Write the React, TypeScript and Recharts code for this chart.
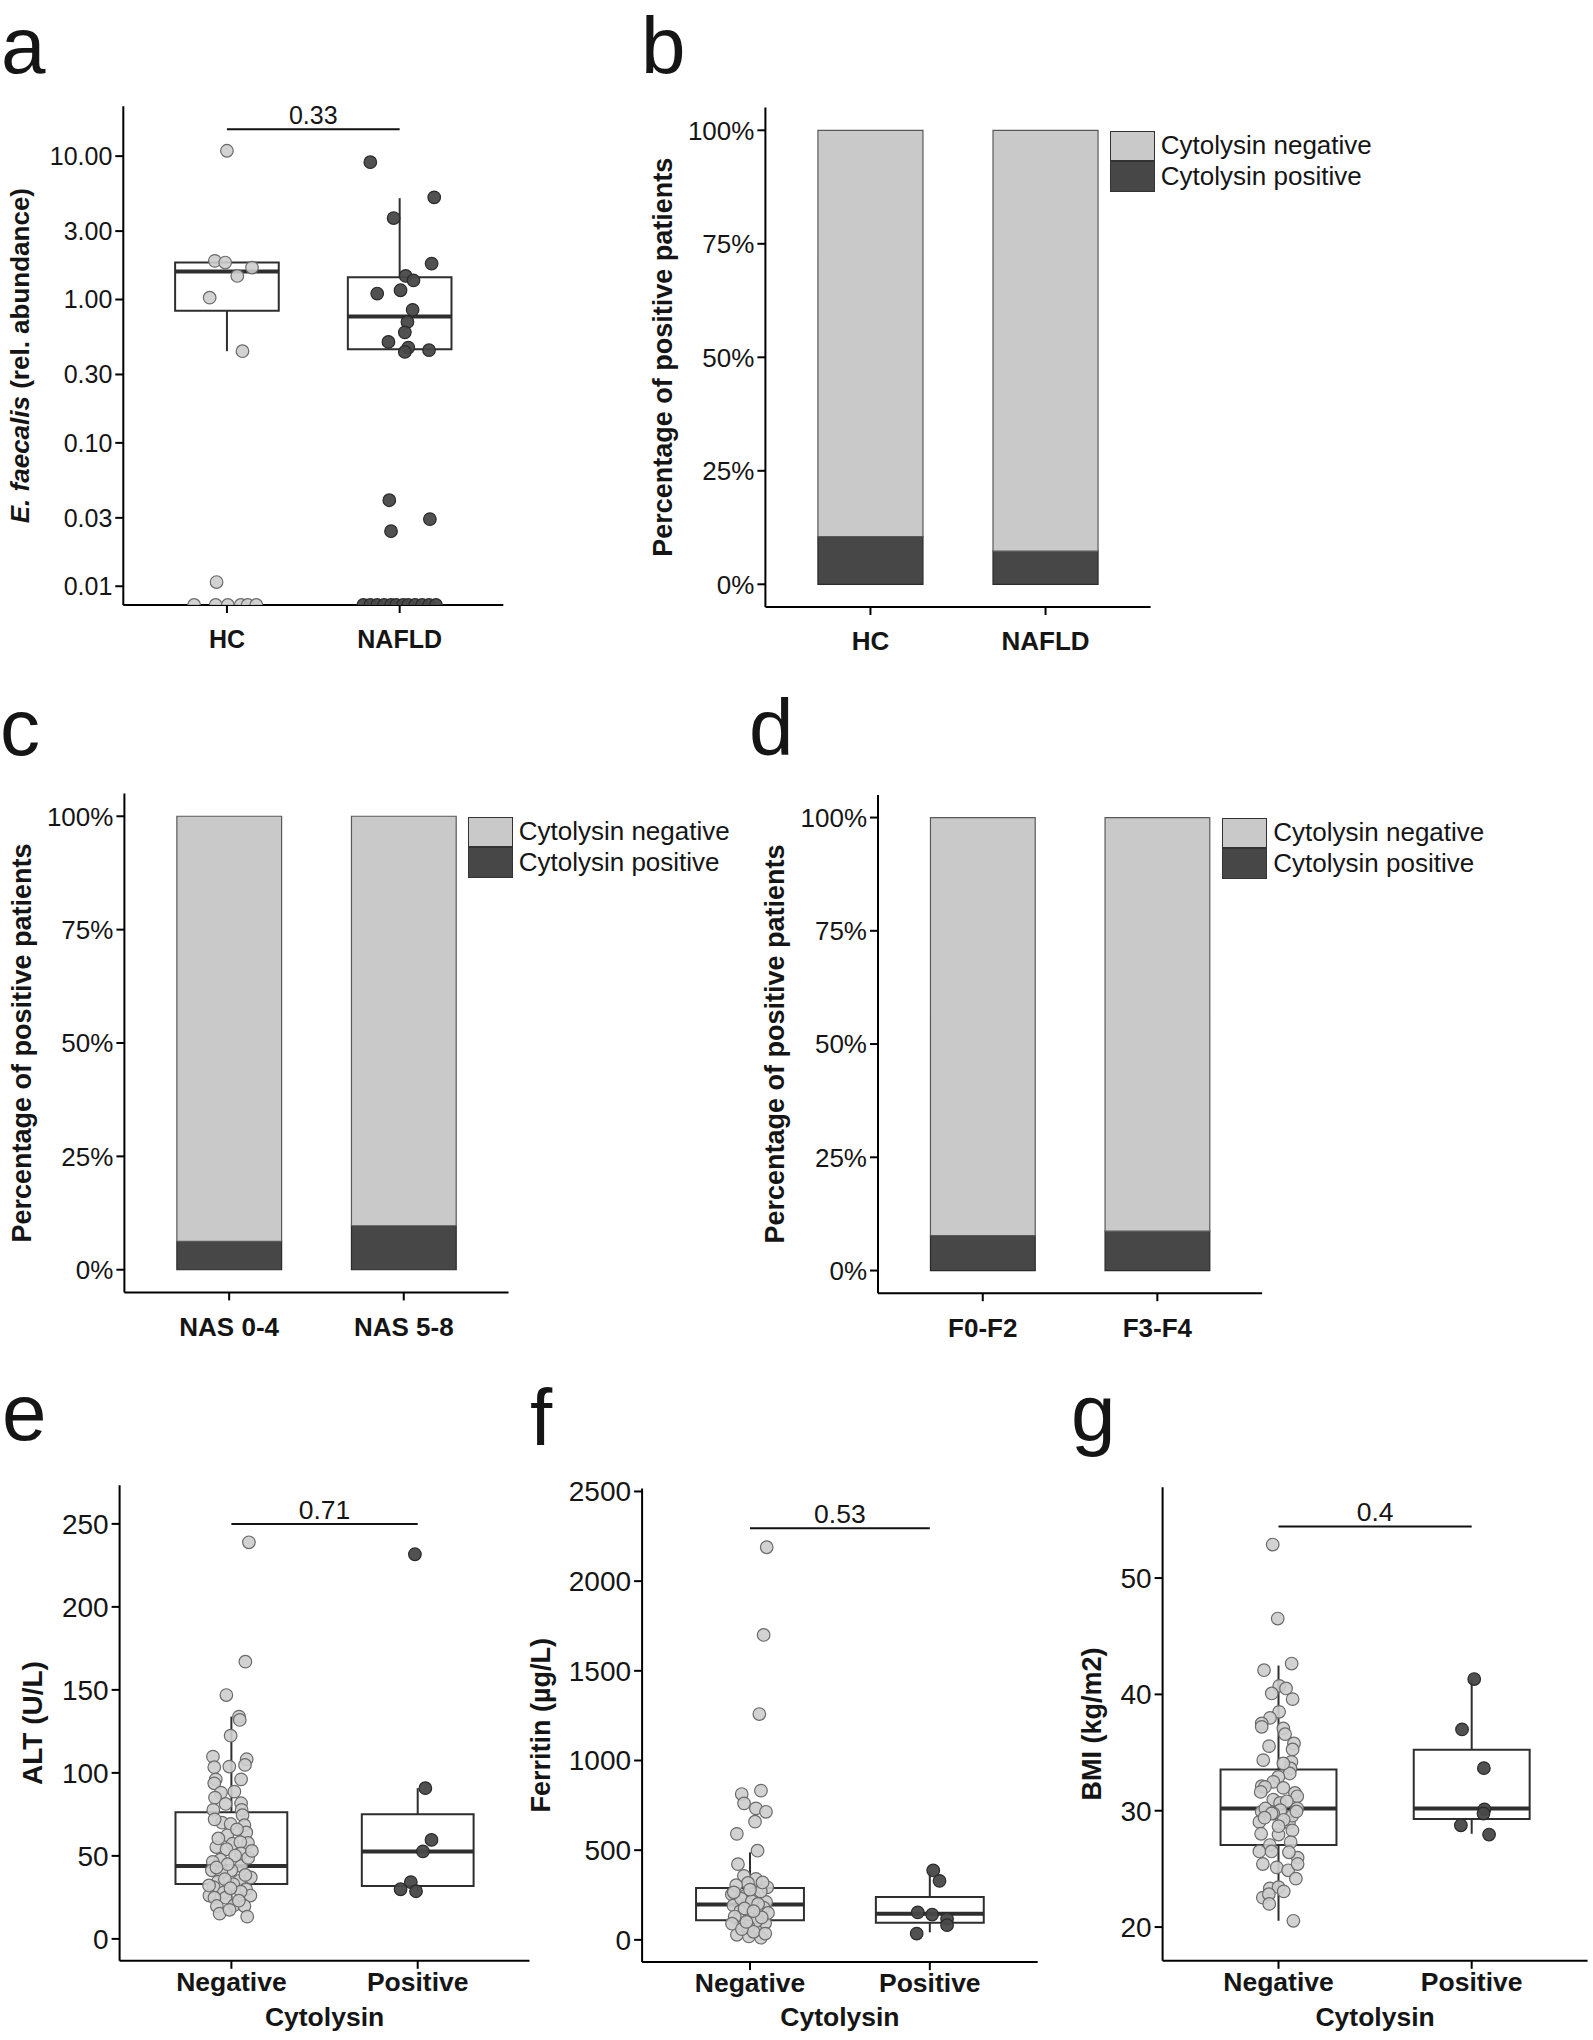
import React from 'react';
import { ComposedChart, BarChart, Bar, Scatter, XAxis, YAxis, ReferenceArea, ReferenceLine } from 'recharts';

const FONT = '"Liberation Sans", Arial, Helvetica, sans-serif';
const LIGHT = '#c9c9c9';
const DARK = '#474747';
const INK = '#151515';

// ---- panel a: E. faecalis abundance (log scale, zeros sit on the axis floor)
const A_GROUPS = ['HC', 'NAFLD'];
const A_HC_VALUES = [10.9, 1.86, 1.81, 1.67, 1.46, 1.03, 0.436, 0.0107, 0, 0, 0, 0, 0, 0];
const A_HC_JITTER = [0, -0.07, -0.01, 0.145, 0.06, -0.1, 0.09, -0.06, -0.19, -0.065, 0.005, 0.08, 0.12, 0.17];
const A_NAFLD_VALUES = [9.07, 5.16, 3.7, 1.78, 1.46, 1.36, 1.1, 1.16, 0.847, 0.697, 0.59, 0.506, 0.462, 0.431, 0.443, 0.0398, 0.0294, 0.0242, 0, 0, 0, 0, 0, 0, 0, 0, 0, 0, 0, 0];
const A_NAFLD_JITTER = [-0.17, 0.2, -0.035, 0.185, 0.035, 0.08, -0.13, 0.005, 0.075, 0.045, 0.03, -0.065, 0.05, 0.03, 0.17, -0.06, 0.175, -0.05, -0.21, -0.17, -0.13, -0.09, -0.05, -0.02, 0.02, 0.05, 0.09, 0.13, 0.17, 0.21];
// [lower whisker, q1, median, q3, upper whisker]
const A_BOX_HC = [0.436, 0.834, 1.57, 1.81, 1.86];
const A_BOX_NAFLD = [0.431, 0.449, 0.762, 1.43, 5.09];
const A_TICKS = [0.01, 0.03, 0.1, 0.3, 1, 3, 10];
const A_P = '0.33';
const A_BRACKET = 15.4;

// ---- panels b-d: share of cytolysin positive patients (%)
const B_GROUPS = ['HC', 'NAFLD'];
const B_POSITIVE = [10.5, 7.3];
const C_GROUPS = ['NAS 0-4', 'NAS 5-8'];
const C_POSITIVE = [6.25, 9.7];
const D_GROUPS = ['F0-F2', 'F3-F4'];
const D_POSITIVE = [7.7, 8.7];
const PCT_TICKS = [0, 25, 50, 75, 100];

// ---- panels e-g: by cytolysin status
const CYTO_GROUPS = ['Negative', 'Positive'];

const E_NEG_VALUES = [238.9, 167, 146.9, 133.9, 131.9, 122.4, 109.8, 108.2, 103.4, 103.8, 104.8, 96.1, 96.1, 93.7, 88.1, 88.7, 85.1, 81.3, 81.7, 77.7, 77.7, 74.5, 70, 68.5, 69.2, 64.1, 62.4, 57.8, 57.3, 58.3, 55.3, 54, 51.5, 47.7, 46.4, 43.9, 41.3, 41.3, 40.1, 37, 35, 34.5, 29.9, 31.2, 27.9, 26.1, 26.1, 24.8, 24.8, 20.3, 19.8, 19.8, 15.2, 13.4, 60.5, 50.2, 45, 38.5, 33, 36, 28.5, 23, 32.2, 48.8, 66, 72, 53, 43, 30.5, 17.5];
const E_NEG_JITTER = [0.094, 0.075, -0.027, 0.041, 0.045, -0.004, -0.099, 0.082, -0.092, -0.011, 0.073, -0.084, 0.052, -0.092, -0.056, 0.016, -0.088, -0.031, 0.052, -0.097, 0.055, 0.06, -0.05, 0.07, -0.004, 0.08, -0.022, 0.089, 0.006, 0.048, -0.081, -0.026, 0.052, -0.059, -0.1, 0.052, 0, -0.105, -0.054, 0.104, 0.043, -0.072, 0.079, -0.096, -0.041, -0.118, 0.102, -0.031, -0.091, 0.015, 0.07, -0.078, -0.063, 0.085, -0.07, 0.02, -0.02, 0.075, 0.01, -0.035, 0.05, 0.04, -0.12, 0.09, 0.03, -0.09, 0.11, -0.08, -0.005, -0.01];
const E_POS_VALUES = [231.7, 90.8, 59.6, 52.7, 34.2, 29.9, 28.7];
const E_POS_JITTER = [-0.015, 0.041, 0.074, 0.028, -0.037, -0.092, -0.009];
const E_BOX_NEG = [14.2, 33, 43.9, 76.3, 133.9];
const E_BOX_POS = [28.7, 31.9, 52.7, 75.1, 90.8];
const E_TICKS = [0, 50, 100, 150, 200, 250];
const E_P = '0.71';
const E_BRACKET = 250;

const F_NEG_VALUES = [2189, 1700, 1259, 813, 832, 761, 733, 714, 659, 591, 497, 422, 357, 340, 317, 293, 253, 305, 246, 239, 211, 200, 192, 160, 145.5, 117, 117, 94, 82, 59, 28, 19, 12, 270, 230, 180, 130, 105, 75, 45, 215, 265, 150, 90, 320, 175, 125, 60, 35, 280, 200, 100, 160];
const F_NEG_JITTER = [0.093, 0.076, 0.052, -0.046, 0.061, -0.033, 0.033, 0.089, 0.028, -0.073, 0.042, -0.067, -0.034, 0.033, -0.011, 0.096, -0.101, -0.077, -0.025, 0.023, 0.09, -0.015, -0.092, -0.054, 0.052, 0.004, -0.063, 0.084, -0.034, 0.029, -0.073, -0.006, 0.061, 0.06, -0.05, 0.075, -0.085, 0.035, -0.01, 0.02, 0.01, -0.09, 0.1, -0.1, 0.07, -0.03, 0.065, -0.045, 0.085, 0, 0.045, -0.02, 0.02];
const F_POS_VALUES = [387, 329, 153, 141, 117, 82, 35];
const F_POS_JITTER = [0.019, 0.054, -0.067, 0.013, 0.096, 0.096, -0.073];
const F_BOX_NEG = [10, 110, 197, 289, 488];
const F_BOX_POS = [42, 96, 145.5, 239, 380];
const F_TICKS = [0, 500, 1000, 1500, 2000, 2500];
const F_P = '0.53';
const F_BRACKET = 2295;

const G_NEG_VALUES = [52.88, 46.52, 42.08, 42.65, 40.73, 40.51, 40.08, 39.59, 38.5, 37.98, 37.5, 37.21, 37.07, 36.58, 35.78, 35.27, 35.55, 34.35, 34.2, 33.63, 33.2, 34.06, 32.91, 32.48, 32.11, 32.05, 31.62, 31.96, 31.53, 31.24, 30.95, 30.67, 30.81, 29.91, 30.2, 30.05, 29.76, 30.19, 29.04, 28.96, 28.02, 27.95, 28.31, 27.05, 27.3, 26.5, 26.5, 25.96, 26.43, 25.42, 25.13, 24.88, 25.42, 24.16, 23.32, 23.43, 23.07, 22.53, 22.82, 21.99, 20.54, 29.76, 29.58, 29.4, 29.22, 28.67, 29.94];
const G_NEG_JITTER = [-0.03, -0.004, -0.075, 0.068, 0.004, 0.039, -0.035, 0.073, 0.003, -0.044, -0.087, -0.087, 0.025, 0.034, 0.08, 0.073, -0.049, -0.079, 0.067, 0.062, 0.058, 0.025, -0.001, -0.027, -0.087, -0.07, -0.092, 0.025, 0.085, 0.097, -0.027, 0.008, 0.043, -0.087, 0.097, 0.01, -0.027, -0.068, -0.099, 0.054, -0.09, 0, 0.072, -0.045, 0.063, -0.099, -0.036, 0.099, 0.054, -0.081, -0.009, 0.05, 0.099, 0.09, -0.045, 0, 0.027, -0.081, -0.05, -0.048, 0.077, -0.036, 0.072, -0.072, 0.027, 0, 0.093];
const G_POS_VALUES = [41.32, 36.99, 33.66, 30.12, 29.76, 28.75, 27.95];
const G_POS_JITTER = [0.013, -0.05, 0.063, 0.066, 0.061, -0.056, 0.09];
const G_BOX_NEG = [20.54, 27.05, 30.19, 33.55, 42.48];
const G_BOX_POS = [28.02, 29.29, 30.19, 35.25, 41.25];
const G_TICKS = [20, 30, 40, 50];
const G_P = '0.4';
const G_BRACKET = 54.44;

const LEGEND_ITEMS = [
  { label: 'Cytolysin negative', color: LIGHT },
  { label: 'Cytolysin positive', color: DARK },
];

type Frame = { L: number; T: number; W: number; H: number; PL: number; PR: number; PT: number; PB: number };

const FRAME_A: Frame = { L: 0, T: 0, W: 520, H: 680, PL: 123.3, PR: 503.3, PT: 106.2, PB: 605 };
const FRAME_B: Frame = { L: 620, T: 0, W: 600, H: 680, PL: 765.4, PR: 1150.6, PT: 107.6, PB: 607 };
const FRAME_C: Frame = { L: 0, T: 690, W: 760, H: 680, PL: 124.4, PR: 508.5, PT: 793.6, PB: 1292.4 };
const FRAME_D: Frame = { L: 760, T: 690, W: 833, H: 680, PL: 878, PR: 1262.1, PT: 794.9, PB: 1293.2 };
const FRAME_E: Frame = { L: 0, T: 1380, W: 540, H: 660, PL: 119.6, PR: 529.5, PT: 1485.2, PB: 1960.8 };
const FRAME_F: Frame = { L: 540, T: 1380, W: 520, H: 660, PL: 642.1, PR: 1037.7, PT: 1488.6, PB: 1962.1 };
const FRAME_G: Frame = { L: 1060, T: 1380, W: 533, H: 660, PL: 1162.6, PR: 1587.6, PT: 1487.3, PB: 1960.8 };

const dot = (fill: string, stroke: string, opacity: number) => (p: any) =>
  p.cx == null ? <g /> : (
    <circle cx={p.cx} cy={p.cy} r={6.3} fill={fill} fillOpacity={opacity} stroke={stroke} strokeWidth={1.2} />
  );

function points(values: number[], jitter: number[], center: number, floor?: number) {
  return values.map((v, i) => ({ x: center + (jitter[i] ?? 0), y: floor != null && v <= 0 ? floor : v }));
}

function boxShapes(stats: number[], x: number, key: string) {
  const [lo, q1, med, q3, hi] = stats;
  const line = { stroke: '#2e2e2e', strokeWidth: 2, ifOverflow: 'visible' as const };
  return [
    <ReferenceLine key={key + 'hi'} segment={[{ x, y: q3 }, { x, y: hi }]} {...line} />,
    <ReferenceLine key={key + 'lo'} segment={[{ x, y: lo }, { x, y: q1 }]} {...line} />,
    <ReferenceArea key={key + 'box'} x1={x - 0.3} x2={x + 0.3} y1={q1} y2={q3} fill="#ffffff" fillOpacity={0} stroke="#2e2e2e" strokeWidth={2} ifOverflow="visible" />,
    <ReferenceLine key={key + 'med'} segment={[{ x: x - 0.3, y: med }, { x: x + 0.3, y: med }]} stroke="#2e2e2e" strokeWidth={4} ifOverflow="visible" />,
  ];
}

type BoxPanelProps = {
  f: Frame;
  cats: string[];
  neg: { x: number; y: number }[];
  pos: { x: number; y: number }[];
  boxes: number[][];
  domain: [number, number];
  ticks: number[];
  fmt?: (v: number) => string;
  log?: boolean;
  bracket: number;
  pText: string;
  tickFont: number;
  catFont: number;
  catMargin: number;
};

function BoxPanel({ f, cats, neg, pos, boxes, domain, ticks, fmt, log, bracket, pText, tickFont, catFont, catMargin }: BoxPanelProps) {
  return (
    <div style={{ position: 'absolute', left: f.L, top: f.T }}>
      <ComposedChart width={f.W} height={f.H} margin={{ top: f.PT - f.T, right: f.L + f.W - f.PR, bottom: 0, left: 0 }}>
        <XAxis
          type="number"
          dataKey="x"
          domain={[0.4, 2.6]}
          ticks={[1, 2]}
          allowDataOverflow
          interval={0}
          tickFormatter={(v: number) => cats[Math.round(v) - 1]}
          height={f.T + f.H - f.PB}
          axisLine={{ stroke: '#000', strokeWidth: 2 }}
          tickLine={{ stroke: '#000', strokeWidth: 2 }}
          tickSize={8}
          tickMargin={catMargin}
          tick={{ fontSize: catFont, fontWeight: 700, fill: INK, fontFamily: FONT }}
        />
        <YAxis
          type="number"
          dataKey="y"
          scale={log ? 'log' : 'linear'}
          domain={domain}
          ticks={ticks}
          allowDataOverflow
          interval={0}
          tickFormatter={fmt}
          width={f.PL - f.L}
          axisLine={{ stroke: '#000', strokeWidth: 2 }}
          tickLine={{ stroke: '#000', strokeWidth: 2 }}
          tickSize={8}
          tickMargin={3}
          tick={{ fontSize: tickFont, fill: INK, fontFamily: FONT }}
        />
        {boxShapes(boxes[0], 1, 'n')}
        {boxShapes(boxes[1], 2, 'p')}
        <ReferenceLine
          segment={[{ x: 1, y: bracket }, { x: 2, y: bracket }]}
          stroke="#111"
          strokeWidth={2}
          ifOverflow="visible"
          label={{ value: pText, position: 'top', offset: 5, fontSize: catFont, fill: INK, fontFamily: FONT }}
        />
        <Scatter data={neg} isAnimationActive={false} shape={dot('#cdcdcd', '#6a6a6a', 0.9)} />
        <Scatter data={pos} isAnimationActive={false} shape={dot('#484848', '#2a2a2a', 0.95)} />
      </ComposedChart>
    </div>
  );
}

function StackPanel({ f, groups, positive }: { f: Frame; groups: string[]; positive: number[] }) {
  const data = groups.map((g, i) => ({ group: g, pos: positive[i], neg: 100 - positive[i] }));
  const P = f.PR - f.PL;
  const pad = P * (0.1 / 2.2);
  const barSize = P * (0.6 / 2.2);
  return (
    <div style={{ position: 'absolute', left: f.L, top: f.T }}>
      <BarChart width={f.W} height={f.H} data={data} margin={{ top: f.PT - f.T, right: f.L + f.W - f.PR, bottom: 0, left: 0 }}>
        <XAxis
          dataKey="group"
          padding={{ left: pad, right: pad }}
          interval={0}
          height={f.T + f.H - f.PB}
          axisLine={{ stroke: '#000', strokeWidth: 2 }}
          tickLine={{ stroke: '#000', strokeWidth: 2 }}
          tickSize={8}
          tickMargin={17}
          tick={{ fontSize: 26, fontWeight: 700, fill: INK, fontFamily: FONT }}
        />
        <YAxis
          type="number"
          domain={[-5, 105]}
          ticks={PCT_TICKS}
          allowDataOverflow
          interval={0}
          tickFormatter={(v: number) => `${v}%`}
          width={f.PL - f.L}
          axisLine={{ stroke: '#000', strokeWidth: 2 }}
          tickLine={{ stroke: '#000', strokeWidth: 2 }}
          tickSize={8}
          tickMargin={3}
          tick={{ fontSize: 26, fill: INK, fontFamily: FONT }}
        />
        <Bar dataKey="pos" stackId="s" name="Cytolysin positive" barSize={barSize} fill={DARK} stroke="#2b2b2b" strokeWidth={1.2} isAnimationActive={false} />
        <Bar dataKey="neg" stackId="s" name="Cytolysin negative" barSize={barSize} fill={LIGHT} stroke="#5a5a5a" strokeWidth={1.2} isAnimationActive={false} />
      </BarChart>
    </div>
  );
}

function LegendBox({ left, top }: { left: number; top: number }) {
  return (
    <div style={{ position: 'absolute', left, top, fontFamily: FONT, fontSize: 26, color: INK }}>
      {LEGEND_ITEMS.map((it) => (
        <div key={it.label} style={{ display: 'flex', alignItems: 'center', height: 30.5 }}>
          <div style={{ width: 45, height: 30.5, boxSizing: 'border-box', background: it.color, border: '1.5px solid #333' }} />
          <span style={{ marginLeft: 6, whiteSpace: 'nowrap' }}>{it.label}</span>
        </div>
      ))}
    </div>
  );
}

function YTitle({ x, y, size, children }: { x: number; y: number; size: number; children: React.ReactNode }) {
  return (
    <text transform={`translate(${x},${y}) rotate(-90)`} textAnchor="middle" dominantBaseline="central" fontSize={size} fontWeight={700} fill={INK} fontFamily={FONT}>
      {children}
    </text>
  );
}

const PANEL_LETTERS = [
  { t: 'a', x: 1, y: 73 },
  { t: 'b', x: 641, y: 73 },
  { t: 'c', x: 0, y: 755 },
  { t: 'd', x: 749, y: 755 },
  { t: 'e', x: 2, y: 1440 },
  { t: 'f', x: 530, y: 1445 },
  { t: 'g', x: 1071, y: 1440 },
];

export default function App() {
  const mid = (f: Frame) => (f.PT + f.PB) / 2;
  const cx = (f: Frame) => (f.PL + f.PR) / 2;
  return (
    <div style={{ position: 'absolute', left: 0, top: 0, width: 1593, height: 2040, background: '#fff', fontFamily: FONT, overflow: 'hidden' }}>
      <BoxPanel
        f={FRAME_A}
        cats={A_GROUPS}
        neg={points(A_HC_VALUES, A_HC_JITTER, 1, 0.0074)}
        pos={points(A_NAFLD_VALUES, A_NAFLD_JITTER, 2, 0.0074)}
        boxes={[A_BOX_HC, A_BOX_NAFLD]}
        domain={[0.0074, 22.3]}
        ticks={A_TICKS}
        fmt={(v) => v.toFixed(2)}
        log
        bracket={A_BRACKET}
        pText={A_P}
        tickFont={25}
        catFont={25}
        catMargin={17}
      />
      <StackPanel f={FRAME_B} groups={B_GROUPS} positive={B_POSITIVE} />
      <StackPanel f={FRAME_C} groups={C_GROUPS} positive={C_POSITIVE} />
      <StackPanel f={FRAME_D} groups={D_GROUPS} positive={D_POSITIVE} />
      <LegendBox left={1109.8} top={130.5} />
      <LegendBox left={467.7} top={816.5} />
      <LegendBox left={1222.3} top={817.7} />
      <BoxPanel
        f={FRAME_E}
        cats={CYTO_GROUPS}
        neg={points(E_NEG_VALUES, E_NEG_JITTER, 1)}
        pos={points(E_POS_VALUES, E_POS_JITTER, 2)}
        boxes={[E_BOX_NEG, E_BOX_POS]}
        domain={[-13.2, 273.3]}
        ticks={E_TICKS}
        bracket={E_BRACKET}
        pText={E_P}
        tickFont={28}
        catFont={26.5}
        catMargin={3}
      />
      <BoxPanel
        f={FRAME_F}
        cats={CYTO_GROUPS}
        neg={points(F_NEG_VALUES, F_NEG_JITTER, 1)}
        pos={points(F_POS_VALUES, F_POS_JITTER, 2)}
        boxes={[F_BOX_NEG, F_BOX_POS]}
        domain={[-124, 2516]}
        ticks={F_TICKS}
        bracket={F_BRACKET}
        pText={F_P}
        tickFont={28}
        catFont={26.5}
        catMargin={3}
      />
      <BoxPanel
        f={FRAME_G}
        cats={CYTO_GROUPS}
        neg={points(G_NEG_VALUES, G_NEG_JITTER, 1)}
        pos={points(G_POS_VALUES, G_POS_JITTER, 2)}
        boxes={[G_BOX_NEG, G_BOX_POS]}
        domain={[17.1, 57.8]}
        ticks={G_TICKS}
        bracket={G_BRACKET}
        pText={G_P}
        tickFont={28}
        catFont={26.5}
        catMargin={3}
      />
      <svg width={1593} height={2040} style={{ position: 'absolute', left: 0, top: 0, pointerEvents: 'none' }}>
        {PANEL_LETTERS.map((l) => (
          <text key={l.t} x={l.x} y={l.y} fontSize={80} fill={INK} fontFamily={FONT}>
            {l.t}
          </text>
        ))}
        <YTitle x={20} y={mid(FRAME_A)} size={26}>
          <tspan fontStyle="italic">E. faecalis</tspan> (rel. abundance)
        </YTitle>
        <YTitle x={663.4} y={mid(FRAME_B)} size={27}>Percentage of positive patients</YTitle>
        <YTitle x={22.4} y={mid(FRAME_C)} size={27}>Percentage of positive patients</YTitle>
        <YTitle x={774.9} y={mid(FRAME_D)} size={27}>Percentage of positive patients</YTitle>
        <YTitle x={32.7} y={mid(FRAME_E)} size={28}>ALT (U/L)</YTitle>
        <YTitle x={541.4} y={mid(FRAME_F)} size={27}>Ferritin (µg/L)</YTitle>
        <YTitle x={1091.5} y={mid(FRAME_G)} size={27}>BMI (kg/m2)</YTitle>
        {[FRAME_E, FRAME_F, FRAME_G].map((f, i) => (
          <text key={i} x={cx(f)} y={2026} textAnchor="middle" fontSize={26.5} fontWeight={700} fill={INK} fontFamily={FONT}>
            Cytolysin
          </text>
        ))}
      </svg>
    </div>
  );
}
